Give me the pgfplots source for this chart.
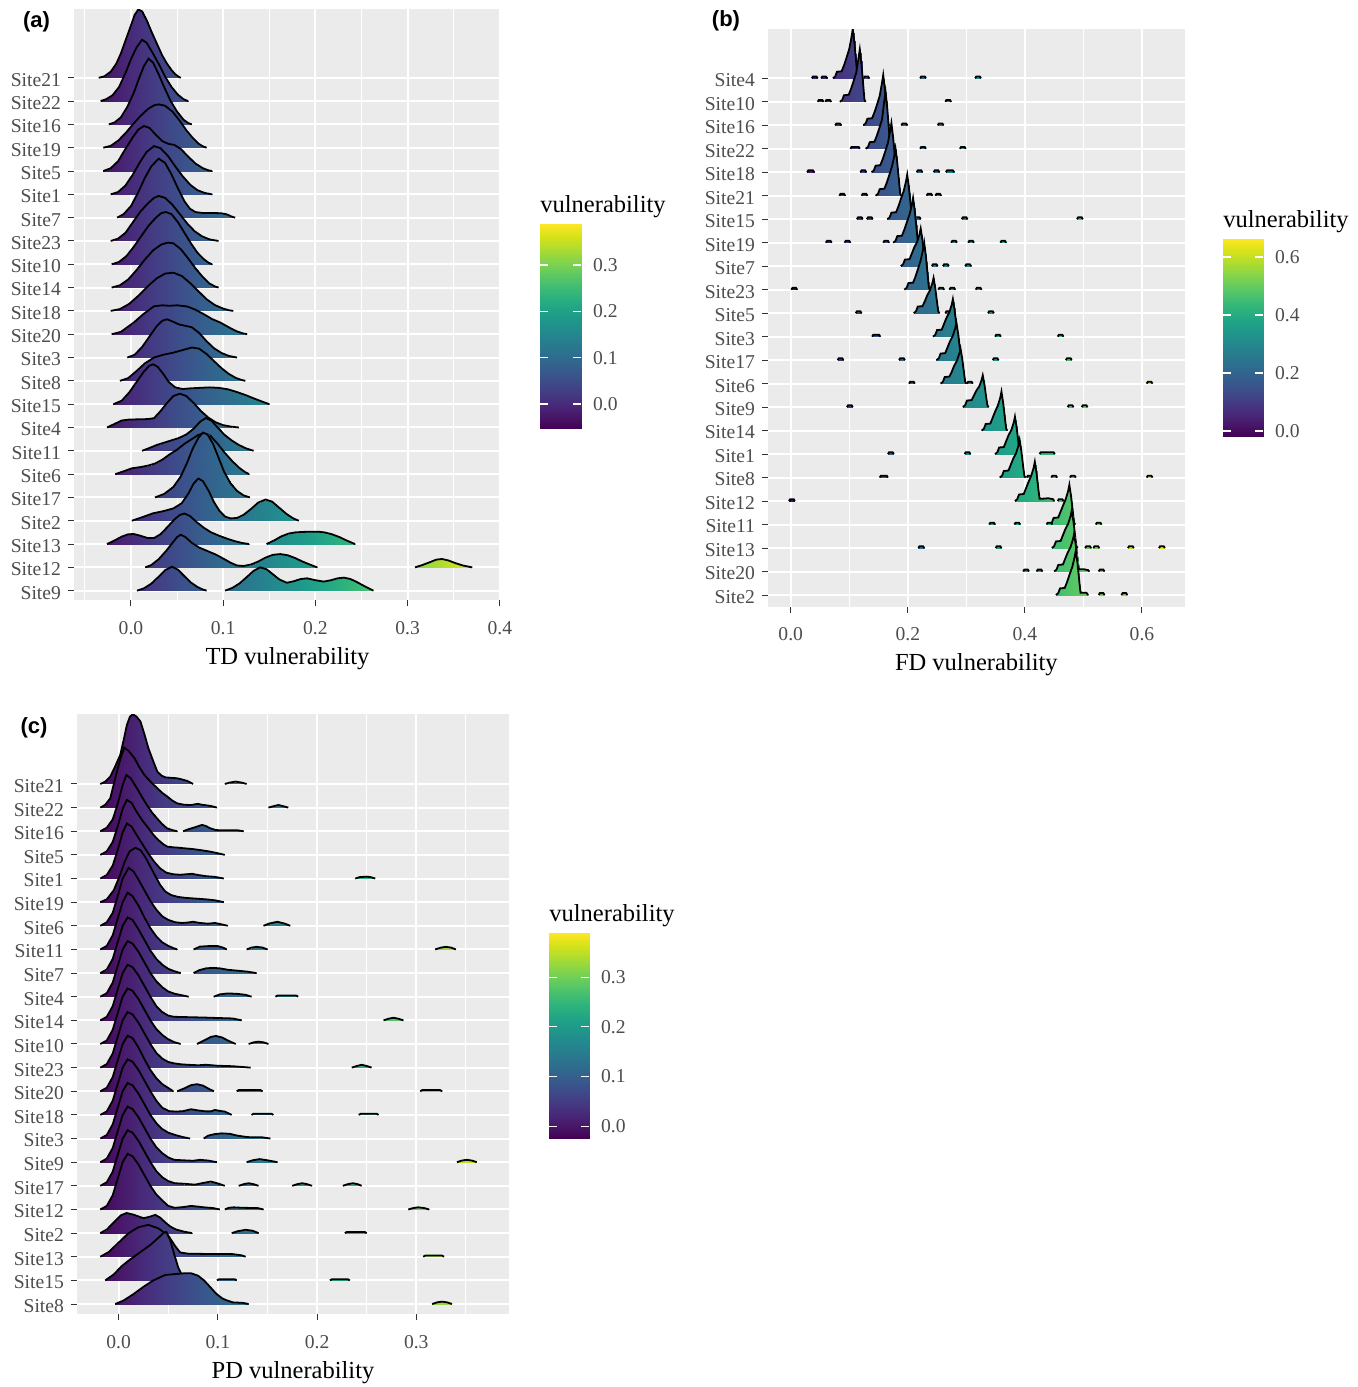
\documentclass[border=0pt]{standalone}
\usepackage{pgfplots}
\pgfplotsset{compat=1.18}
\usepackage{fontspec}
\setmainfont{Liberation Serif}
\newfontfamily\panelfont{Liberation Sans}
\definecolor{bggrey}{HTML}{EBEBEB}
\definecolor{labgrey}{HTML}{4D4D4D}
\definecolor{tickgrey}{HTML}{333333}
\newcommand\ticksize{\fontsize{9.8pt}{11pt}\selectfont}
\newcommand\titlesize{\fontsize{12.25pt}{14pt}\selectfont}

% one ridge: #1 = baseline (category position), #2 = list x/height
\newcommand\ridge[2]{%
  \gdef\rbase{}\gdef\rtop{}%
  \foreach \xx/\hh in {#2}{%
    \pgfmathsetmacro\yy{#1+\hh}%
    \xdef\rbase{\rbase(\xx,#1)}%
    \xdef\rtop{\rtop(\xx,\yy)}%
  }%
  \edef\rtmp{\noexpand\addplot[surf,shader=interp,point meta=x,mesh/rows=2,forget plot] coordinates {\rbase\rtop};%
    \noexpand\addplot[draw=black,line width=0.9pt,forget plot] coordinates {\rtop};}%
  \rtmp}

\pgfplotsset{
  ridgeaxis/.style={
    scale only axis, anchor=north west, clip=true,
    axis background/.style={fill=bggrey},
    axis line style={draw=none},
    xmajorgrids, ymajorgrids, xminorgrids,
    major grid style={draw=white, line width=1pt},
    minor grid style={draw=white, line width=0.5pt},
    tick align=outside, xtick pos=left, ytick pos=left,
    major tick length=3pt, minor tick length=0pt,
    tick style={draw=tickgrey, line width=0.5pt},
    ytick={1,...,23},
    /pgf/number format/assume math mode=true,
    x tick label style={font=\ticksize, text=labgrey, yshift=-4pt, /pgf/number format/.cd, fixed, fixed zerofill, precision=1, /tikz/.cd},
    y tick label style={font=\ticksize, text=labgrey, yshift=-1pt},
    xlabel style={font=\titlesize, at={(axis description cs:0.5,0)}, anchor=base, yshift=-32pt},
    colormap/viridis,
  },
  cbar/.style={
    scale only axis, anchor=north west, clip=true,
    xmin=0, xmax=1, colormap/viridis,
    axis line style={draw=none}, xtick=\empty,
    tick align=inside, ytick pos=both, yticklabel pos=right,
    major tick length=4pt, minor tick length=0pt,
    ytick style={draw=white, line width=0.6pt},
    axis on top,
    /pgf/number format/assume math mode=true,
    y tick label style={font=\ticksize, text=labgrey, xshift=2.5pt, /pgf/number format/.cd, fixed, fixed zerofill, precision=1, /tikz/.cd},
    title={vulnerability},
    title style={font=\titlesize, anchor=base west, at={(0,1)}, yshift=0pt, inner sep=0pt},
  }
}

\begin{document}
\begin{tikzpicture}
\useasboundingbox (0,0) rectangle (678.5pt,-693.5pt);

% ---------------- (a) TD ----------------
\begin{axis}[ridgeaxis, at={(37pt,-4.5pt)}, width=213.5pt, height=295.5pt,
  xmin=-0.0618, xmax=0.4013, ymin=0.6, ymax=25.95,
  xtick={0,0.1,0.2,0.3,0.4}, minor xtick={-0.05,0.05,0.15,0.25,0.35},
  yticklabels={Site9,Site12,Site13,Site2,Site17,Site6,Site11,Site4,Site15,Site8,Site3,Site20,Site18,Site14,Site10,Site23,Site7,Site1,Site5,Site19,Site16,Site22,Site21},
  xlabel={TD vulnerability},
  point meta min=-0.0518, point meta max=0.3885,
]
\ridge{23}{-0.035/0,-0.029/0.06,-0.022/0.26,-0.016/0.6,-0.011/1.04,-0.005/1.7,0/2.25,0.004/2.7,0.008/2.93,0.012/2.85,0.017/2.47,0.022/2.0,0.028/1.47,0.034/0.95,0.039/0.61,0.044/0.33,0.048/0.15,0.052/0.04,0.054/0}
\ridge{22}{-0.033/0,-0.027/0.08,-0.02/0.25,-0.013/0.6,-0.006/1.2,0/1.8,0.006/2.3,0.012/2.63,0.017/2.5,0.023/2.1,0.03/1.6,0.037/1.05,0.044/0.6,0.051/0.27,0.057/0.08,0.062/0}
\ridge{21}{-0.024/0,-0.018/0.08,-0.011/0.3,-0.004/0.75,0.003/1.35,0.009/2.0,0.014/2.5,0.019/2.82,0.024/2.65,0.03/2.15,0.036/1.6,0.043/1.0,0.05/0.55,0.057/0.2,0.062/0.06,0.066/0}
\ridge{20}{-0.03/0,-0.022/0.08,-0.014/0.3,-0.006/0.62,0.002/1.0,0.01/1.35,0.018/1.65,0.025/1.82,0.03/1.86,0.037/1.8,0.045/1.55,0.053/1.15,0.06/0.75,0.067/0.42,0.073/0.18,0.078/0.06,0.082/0}
\ridge{19}{-0.03/0,-0.022/0.12,-0.014/0.42,-0.006/0.95,0.002/1.45,0.008/1.78,0.014/1.93,0.02/1.85,0.027/1.55,0.034/1.28,0.041/1.16,0.047/1.12,0.054/0.95,0.062/0.62,0.07/0.32,0.078/0.12,0.084/0.03,0.088/0}
\ridge{18}{-0.022/0,-0.014/0.1,-0.006/0.38,0.002/0.85,0.01/1.4,0.017/1.82,0.025/2.07,0.032/1.98,0.04/1.65,0.048/1.2,0.056/0.78,0.064/0.42,0.072/0.18,0.08/0.06,0.088/0}
\ridge{17}{-0.015/0,-0.008/0.15,0/0.5,0.008/1.1,0.015/1.7,0.022/2.2,0.03/2.53,0.037/2.35,0.044/1.85,0.051/1.25,0.058/0.7,0.064/0.38,0.07/0.24,0.078/0.2,0.088/0.2,0.098/0.19,0.104/0.14,0.109/0.05,0.113/0}
\ridge{16}{-0.022/0,-0.014/0.1,-0.006/0.35,0.002/0.8,0.01/1.25,0.018/1.6,0.025/1.85,0.03/1.93,0.037/1.85,0.045/1.55,0.053/1.15,0.061/0.75,0.069/0.42,0.077/0.2,0.085/0.07,0.095/0}
\ridge{15}{-0.021/0,-0.013/0.1,-0.005/0.35,0.003/0.75,0.011/1.2,0.019/1.65,0.027/2.0,0.033/2.2,0.038/2.24,0.044/2.15,0.051/1.8,0.058/1.35,0.065/0.9,0.072/0.5,0.079/0.22,0.084/0.07,0.088/0}
\ridge{14}{-0.021/0,-0.012/0.1,-0.003/0.35,0.006/0.75,0.015/1.2,0.024/1.6,0.033/1.85,0.04/1.93,0.046/1.9,0.054/1.65,0.062/1.25,0.07/0.82,0.078/0.45,0.085/0.18,0.091/0.05,0.095/0}
\ridge{13}{-0.022/0,-0.012/0.08,-0.002/0.3,0.008/0.65,0.018/1.05,0.028/1.4,0.037/1.6,0.046/1.64,0.055/1.5,0.064/1.2,0.073/0.85,0.082/0.5,0.091/0.25,0.1/0.1,0.106/0.03,0.111/0}
\ridge{12}{-0.021/0,-0.011/0.1,0.003/0.5,0.013/0.85,0.025/1.2,0.034/1.24,0.042/1.22,0.05/1.24,0.061/1.19,0.07/1.05,0.079/0.86,0.088/0.65,0.097/0.5,0.106/0.3,0.115/0.12,0.122/0.03,0.126/0}
\ridge{11}{-0.004/0,0.004/0.12,0.012/0.45,0.02/0.9,0.028/1.35,0.034/1.58,0.039/1.64,0.045/1.55,0.052/1.42,0.059/1.36,0.066/1.3,0.074/1.05,0.082/0.7,0.09/0.4,0.098/0.2,0.106/0.07,0.115/0}
\ridge{10}{-0.012/0,-0.003/0.12,0.006/0.42,0.015/0.75,0.025/1.0,0.035/1.12,0.046/1.21,0.056/1.32,0.066/1.43,0.074/1.38,0.082/1.15,0.09/0.85,0.098/0.55,0.106/0.3,0.114/0.12,0.12/0.04,0.124/0}
\ridge{9}{-0.019/0,-0.01/0.15,-0.002/0.5,0.006/0.95,0.014/1.4,0.02/1.65,0.024/1.71,0.029/1.6,0.035/1.3,0.041/0.95,0.048/0.72,0.056/0.65,0.065/0.68,0.075/0.7,0.085/0.72,0.095/0.7,0.105/0.64,0.115/0.52,0.125/0.38,0.135/0.22,0.143/0.1,0.15/0}
\ridge{8}{-0.026/0,-0.018/0.15,-0.01/0.3,-0.002/0.34,0.008/0.35,0.018/0.36,0.025/0.4,0.032/0.7,0.039/1.05,0.046/1.35,0.053/1.45,0.06/1.35,0.068/1.05,0.076/0.7,0.084/0.42,0.092/0.22,0.1/0.1,0.108/0.04,0.117/0}
\ridge{7}{0.012/0,0.02/0.12,0.028/0.25,0.036/0.35,0.044/0.45,0.052/0.55,0.06/0.7,0.068/0.95,0.075/1.25,0.081/1.4,0.087/1.3,0.094/1.0,0.101/0.7,0.109/0.45,0.117/0.25,0.125/0.1,0.133/0}
\ridge{6}{-0.017/0,-0.008/0.12,0.001/0.25,0.01/0.3,0.018/0.36,0.026/0.45,0.034/0.62,0.042/0.85,0.05/1.05,0.058/1.3,0.066/1.5,0.073/1.68,0.079/1.75,0.086/1.65,0.094/1.3,0.102/0.9,0.11/0.55,0.118/0.25,0.124/0.08,0.128/0}
\ridge{5}{0.026/0,0.036/0.15,0.046/0.45,0.054/0.9,0.061/1.5,0.067/2.1,0.073/2.55,0.078/2.78,0.083/2.7,0.089/2.3,0.095/1.7,0.101/1.1,0.108/0.6,0.115/0.28,0.122/0.09,0.129/0}
\ridge{4}{0.001/0,0.012/0.15,0.024/0.32,0.036/0.42,0.046/0.53,0.055/0.75,0.062/1.15,0.068/1.6,0.073/1.81,0.078/1.7,0.084/1.3,0.09/0.8,0.096/0.42,0.102/0.18,0.108/0.1,0.115/0.12,0.122/0.25,0.13/0.5,0.138/0.78,0.146/0.91,0.153/0.82,0.161/0.55,0.169/0.28,0.176/0.1,0.182/0}
\ridge{3}{-0.026/0,-0.018/0.15,-0.01/0.32,-0.003/0.42,0.003/0.43,0.01/0.36,0.018/0.26,0.025/0.26,0.032/0.42,0.04/0.75,0.047/1.05,0.053/1.25,0.058/1.31,0.064/1.2,0.071/0.95,0.079/0.7,0.087/0.5,0.096/0.35,0.105/0.22,0.113/0.12,0.12/0.05,0.128/0}
\ridge{3}{0.147/0,0.155/0.15,0.163/0.33,0.171/0.45,0.178/0.5,0.186/0.52,0.195/0.53,0.203/0.53,0.21/0.5,0.218/0.42,0.226/0.3,0.234/0.15,0.243/0}
\ridge{2}{0.0155/0,0.022/0.1,0.03/0.35,0.038/0.7,0.045/1.05,0.05/1.3,0.054/1.4,0.059/1.3,0.066/1.05,0.074/0.85,0.083/0.7,0.092/0.55,0.1/0.38,0.108/0.2,0.115/0.08,0.122/0.06,0.13/0.12,0.138/0.25,0.146/0.42,0.154/0.54,0.162/0.57,0.17/0.52,0.178/0.4,0.186/0.25,0.194/0.12,0.202/0}
\ridge{2}{0.308/0,0.316/0.1,0.324/0.22,0.331/0.33,0.337/0.36,0.344/0.3,0.352/0.18,0.36/0.08,0.37/0}
\ridge{1}{0.0065/0,0.014/0.1,0.022/0.3,0.03/0.6,0.037/0.88,0.0445/1.03,0.051/0.9,0.058/0.62,0.065/0.35,0.072/0.16,0.078/0.05,0.082/0}
\ridge{1}{0.102/0,0.11/0.12,0.118/0.32,0.126/0.6,0.133/0.85,0.14/1.0,0.147/0.92,0.154/0.7,0.161/0.48,0.169/0.34,0.176/0.4,0.184/0.5,0.191/0.53,0.2/0.45,0.209/0.39,0.217/0.45,0.224/0.53,0.231/0.56,0.238/0.5,0.245/0.37,0.252/0.22,0.258/0.1,0.263/0}
\end{axis}

\begin{axis}[cbar, at={(270pt,-112pt)}, width=20.5pt, height=102pt,
  ymin=-0.0518, ymax=0.3885, point meta min=-0.0518, point meta max=0.3885,
  ytick={0,0.1,0.2,0.3}]
\addplot[surf, shader=interp, point meta=y, mesh/rows=9] coordinates {(0,-0.0518) (1,-0.0518) (0,0) (1,0) (0,0.05) (1,0.05) (0,0.1) (1,0.1) (0,0.15) (1,0.15) (0,0.2) (1,0.2) (0,0.25) (1,0.25) (0,0.3) (1,0.3) (0,0.3885) (1,0.3885)};
\end{axis}

% ---------------- (b) FD ----------------
\begin{axis}[ridgeaxis, at={(384pt,-14.5pt)}, width=208.35pt, height=288.75pt,
  xmin=-0.0388, xmax=0.673, ymin=0.51, ymax=25.1,
  xtick={0,0.2,0.4,0.6}, minor xtick={0.1,0.3,0.5},
  yticklabels={Site2,Site20,Site13,Site11,Site12,Site8,Site1,Site14,Site9,Site6,Site17,Site3,Site5,Site23,Site7,Site19,Site15,Site21,Site18,Site22,Site16,Site10,Site4},
  xlabel={FD vulnerability},
  point meta min=-0.0172, point meta max=0.662,
]
% Site4
\ridge{23}{0.072/0,0.076/0.08,0.079/0.28,0.087/0.3,0.091/0.55,0.095/0.85,0.1/1.25,0.104/1.78,0.106/2.09,0.109/1.46,0.112/0.63,0.114/0.08,0.116/0}
\ridge{23}{0.036/0,0.038/0.08,0.044/0.08,0.046/0}
\ridge{23}{0.052/0,0.054/0.08,0.060/0.08,0.062/0}
\ridge{23}{0.124/0,0.126/0.08,0.132/0.08,0.134/0}
\ridge{23}{0.221/0,0.223/0.08,0.229/0.08,0.231/0}
\ridge{23}{0.315/0,0.317/0.08,0.323/0.08,0.325/0}
% Site10
\ridge{22}{0.084/0,0.088/0.08,0.091/0.28,0.099/0.3,0.103/0.55,0.107/0.85,0.112/1.25,0.116/1.9,0.118/2.23,0.121/1.56,0.124/0.67,0.126/0.08,0.128/0}
\ridge{22}{0.046/0,0.048/0.08,0.054/0.08,0.056/0}
\ridge{22}{0.059/0,0.061/0.08,0.067/0.08,0.069/0}
\ridge{22}{0.264/0,0.266/0.08,0.272/0.08,0.274/0}
% Site16
\ridge{21}{0.124/0,0.128/0.08,0.131/0.28,0.139/0.3,0.143/0.55,0.147/0.85,0.152/1.25,0.156/1.82,0.158/2.14,0.161/1.5,0.164/0.64,0.166/0.08,0.168/0}
\ridge{21}{0.076/0,0.078/0.08,0.084/0.08,0.086/0}
\ridge{21}{0.189/0,0.191/0.08,0.197/0.08,0.199/0}
\ridge{21}{0.251/0,0.253/0.08,0.259/0.08,0.261/0}
% Site22
\ridge{20}{0.128/0,0.132/0.08,0.135/0.28,0.143/0.3,0.147/0.55,0.151/0.85,0.156/1.25,0.160/2.07,0.162/2.43,0.165/1.7,0.168/0.73,0.170/0.08,0.172/0}
\ridge{20}{0.102/0,0.104/0.08,0.116/0.08,0.118/0}
\ridge{20}{0.221/0,0.223/0.08,0.229/0.08,0.231/0}
\ridge{20}{0.289/0,0.291/0.08,0.297/0.08,0.299/0}
% Site18
\ridge{19}{0.138/0,0.142/0.08,0.145/0.28,0.153/0.3,0.157/0.55,0.161/0.85,0.166/1.25,0.170/1.78,0.172/2.09,0.175/1.46,0.178/0.63,0.180/0.08,0.182/0}
\ridge{19}{0.028/0,0.030/0.08,0.038/0.08,0.040/0}
\ridge{19}{0.119/0,0.121/0.08,0.127/0.08,0.129/0}
\ridge{19}{0.215/0,0.217/0.08,0.223/0.08,0.225/0}
\ridge{19}{0.244/0,0.246/0.08,0.252/0.08,0.254/0}
\ridge{19}{0.265/0,0.267/0.08,0.277/0.08,0.279/0}
% Site21
\ridge{18}{0.145/0,0.149/0.08,0.152/0.28,0.160/0.3,0.164/0.55,0.168/0.85,0.173/1.25,0.177/1.7,0.179/2.0,0.182/1.4,0.185/0.6,0.187/0.08,0.189/0}
\ridge{18}{0.083/0,0.085/0.08,0.091/0.08,0.093/0}
\ridge{18}{0.121/0,0.123/0.08,0.129/0.08,0.131/0}
\ridge{18}{0.232/0,0.234/0.08,0.240/0.08,0.242/0}
\ridge{18}{0.247/0,0.249/0.08,0.255/0.08,0.257/0}
% Site15
\ridge{17}{0.165/0,0.169/0.08,0.172/0.28,0.180/0.3,0.184/0.55,0.188/0.85,0.193/1.2,0.197/1.62,0.199/1.9,0.202/1.33,0.205/0.57,0.207/0.08,0.209/0}
\ridge{17}{0.113/0,0.115/0.08,0.121/0.08,0.123/0}
\ridge{17}{0.130/0,0.132/0.08,0.138/0.08,0.140/0}
\ridge{17}{0.212/0,0.214/0.08,0.220/0.08,0.222/0}
\ridge{17}{0.292/0,0.294/0.08,0.300/0.08,0.302/0}
\ridge{17}{0.489/0,0.491/0.08,0.497/0.08,0.499/0}
% Site19
\ridge{16}{0.175/0,0.179/0.08,0.182/0.28,0.190/0.3,0.194/0.55,0.198/0.85,0.203/1.2,0.207/1.62,0.209/1.9,0.212/1.33,0.215/0.57,0.217/0.08,0.219/0}
\ridge{16}{0.060/0,0.062/0.08,0.068/0.08,0.070/0}
\ridge{16}{0.092/0,0.094/0.08,0.100/0.08,0.102/0}
\ridge{16}{0.158/0,0.160/0.08,0.166/0.08,0.168/0}
\ridge{16}{0.274/0,0.276/0.08,0.282/0.08,0.284/0}
\ridge{16}{0.303/0,0.305/0.08,0.311/0.08,0.313/0}
\ridge{16}{0.358/0,0.360/0.08,0.366/0.08,0.368/0}
% Site7
\ridge{15}{0.188/0,0.192/0.08,0.195/0.28,0.203/0.3,0.207/0.55,0.211/0.8,0.216/1.04,0.220/1.36,0.222/1.6,0.225/1.12,0.228/0.48,0.230/0.08,0.232/0}
\ridge{15}{0.241/0,0.243/0.08,0.249/0.08,0.251/0}
\ridge{15}{0.260/0,0.262/0.08,0.268/0.08,0.270/0}
\ridge{15}{0.298/0,0.300/0.08,0.306/0.08,0.308/0}
% Site23
\ridge{14}{0.194/0,0.198/0.08,0.201/0.28,0.209/0.3,0.213/0.55,0.217/0.85,0.222/1.25,0.226/1.7,0.228/2.0,0.231/1.4,0.234/0.6,0.236/0.08,0.238/0}
\ridge{14}{0.001/0,0.003/0.08,0.009/0.08,0.011/0}
\ridge{14}{0.252/0,0.254/0.08,0.260/0.08,0.262/0}
\ridge{14}{0.271/0,0.273/0.08,0.279/0.08,0.281/0}
\ridge{14}{0.316/0,0.318/0.08,0.324/0.08,0.326/0}
% Site5
\ridge{13}{0.210/0,0.214/0.08,0.217/0.28,0.225/0.3,0.229/0.5,0.233/0.75,0.238/0.98,0.242/1.28,0.244/1.5,0.247/1.05,0.250/0.45,0.252/0.08,0.254/0}
\ridge{13}{0.111/0,0.113/0.08,0.119/0.08,0.121/0}
\ridge{13}{0.264/0,0.266/0.08,0.272/0.08,0.274/0}
\ridge{13}{0.337/0,0.339/0.08,0.345/0.08,0.347/0}
% Site3
\ridge{12}{0.243/0,0.247/0.08,0.250/0.28,0.258/0.3,0.262/0.55,0.266/0.8,0.271/1.04,0.275/1.36,0.277/1.6,0.280/1.12,0.283/0.48,0.285/0.08,0.287/0}
\ridge{12}{0.139/0,0.141/0.08,0.151/0.08,0.153/0}
\ridge{12}{0.349/0,0.351/0.08,0.357/0.08,0.359/0}
\ridge{12}{0.456/0,0.458/0.08,0.464/0.08,0.466/0}
% Site17
\ridge{11}{0.249/0,0.253/0.08,0.256/0.28,0.264/0.3,0.268/0.55,0.272/0.8,0.277/1.04,0.281/1.36,0.283/1.6,0.286/1.12,0.289/0.48,0.291/0.08,0.293/0}
\ridge{11}{0.080/0,0.082/0.08,0.088/0.08,0.090/0}
\ridge{11}{0.185/0,0.187/0.08,0.193/0.08,0.195/0}
\ridge{11}{0.345/0,0.347/0.08,0.353/0.08,0.355/0}
\ridge{11}{0.470/0,0.472/0.08,0.478/0.08,0.480/0}
% Site6
\ridge{10}{0.256/0,0.260/0.08,0.263/0.28,0.271/0.3,0.275/0.5,0.279/0.75,0.284/0.98,0.288/1.28,0.290/1.5,0.293/1.05,0.296/0.45,0.298/0.08,0.300/0}
\ridge{10}{0.202/0,0.204/0.08,0.210/0.08,0.212/0}
\ridge{10}{0.301/0,0.303/0.08,0.309/0.08,0.311/0}
\ridge{10}{0.608/0,0.610/0.08,0.616/0.08,0.618/0}
% Site9
\ridge{9}{0.294/0,0.298/0.08,0.301/0.28,0.309/0.3,0.313/0.5,0.317/0.7,0.322/0.88,0.326/1.15,0.328/1.35,0.331/0.95,0.334/0.4,0.336/0.08,0.338/0}
\ridge{9}{0.096/0,0.098/0.08,0.104/0.08,0.106/0}
\ridge{9}{0.473/0,0.475/0.08,0.481/0.08,0.483/0}
\ridge{9}{0.497/0,0.499/0.08,0.505/0.08,0.507/0}
% Site14
\ridge{8}{0.326/0,0.330/0.08,0.333/0.28,0.341/0.3,0.345/0.55,0.349/0.8,0.354/1.08,0.358/1.41,0.360/1.66,0.363/1.16,0.366/0.5,0.368/0.08,0.370/0}
% Site1
\ridge{7}{0.349/0,0.353/0.08,0.356/0.28,0.364/0.3,0.368/0.55,0.372/0.8,0.377/1.03,0.381/1.35,0.383/1.59,0.386/1.11,0.389/0.48,0.391/0.08,0.393/0}
\ridge{7}{0.166/0,0.168/0.08,0.174/0.08,0.176/0}
\ridge{7}{0.297/0,0.299/0.08,0.305/0.08,0.307/0}
\ridge{7}{0.425/0,0.427/0.08,0.449/0.08,0.451/0}
% Site8
\ridge{6}{0.357/0,0.361/0.08,0.364/0.28,0.372/0.3,0.376/0.55,0.380/0.8,0.385/1.04,0.389/1.36,0.391/1.6,0.394/1.12,0.397/0.48,0.399/0.08,0.401/0}
\ridge{6}{0.152/0,0.154/0.08,0.164/0.08,0.166/0}
\ridge{6}{0.403/0,0.405/0.08,0.411/0.08,0.413/0}
\ridge{6}{0.445/0,0.447/0.08,0.453/0.08,0.455/0}
\ridge{6}{0.477/0,0.479/0.08,0.485/0.08,0.487/0}
\ridge{6}{0.608/0,0.610/0.08,0.616/0.08,0.618/0}
% Site12
\ridge{5}{0.383/0,0.387/0.08,0.390/0.28,0.398/0.3,0.402/0.55,0.406/0.8,0.411/1.09,0.415/1.42,0.417/1.67,0.420/1.17,0.423/0.5,0.425/0.1,0.43/0.1,0.44/0.12,0.448/0.08,0.45/0}
\ridge{5}{-0.003/0,-0.001/0.08,0.005/0.08,0.007/0}
\ridge{5}{0.456/0,0.458/0.08,0.464/0.08,0.466/0}
% Site11
\ridge{4}{0.442/0,0.446/0.08,0.449/0.28,0.457/0.3,0.461/0.55,0.465/0.8,0.470/1.1,0.474/1.44,0.476/1.69,0.479/1.18,0.482/0.51,0.484/0.08,0.486/0}
\ridge{4}{0.339/0,0.341/0.08,0.347/0.08,0.349/0}
\ridge{4}{0.382/0,0.384/0.08,0.390/0.08,0.392/0}
\ridge{4}{0.437/0,0.439/0.08,0.445/0.08,0.447/0}
\ridge{4}{0.521/0,0.523/0.08,0.529/0.08,0.531/0}
% Site13
\ridge{3}{0.446/0,0.450/0.08,0.453/0.28,0.461/0.3,0.465/0.55,0.469/0.8,0.474/1.04,0.478/1.36,0.480/1.6,0.483/1.12,0.486/0.48,0.488/0.08,0.490/0}
\ridge{3}{0.218/0,0.220/0.08,0.226/0.08,0.228/0}
\ridge{3}{0.350/0,0.352/0.08,0.358/0.08,0.360/0}
\ridge{3}{0.503/0,0.505/0.08,0.511/0.08,0.513/0}
\ridge{3}{0.517/0,0.519/0.08,0.525/0.08,0.527/0}
\ridge{3}{0.576/0,0.578/0.08,0.584/0.08,0.586/0}
\ridge{3}{0.629/0,0.631/0.08,0.637/0.08,0.639/0}
% Site20
\ridge{2}{0.450/0,0.454/0.08,0.457/0.28,0.465/0.3,0.469/0.55,0.473/0.8,0.478/1.04,0.482/1.36,0.484/1.6,0.487/1.12,0.490/0.48,0.492/0.1,0.5/0.1,0.508/0.06,0.51/0}
\ridge{2}{0.397/0,0.399/0.08,0.405/0.08,0.407/0}
\ridge{2}{0.420/0,0.422/0.08,0.428/0.08,0.430/0}
\ridge{2}{0.526/0,0.528/0.08,0.534/0.08,0.536/0}
% Site2
\ridge{1}{0.453/0,0.457/0.08,0.460/0.28,0.468/0.3,0.472/0.55,0.476/0.85,0.481/1.2,0.485/1.62,0.487/1.9,0.490/1.33,0.493/0.57,0.495/0.1,0.505/0.1,0.508/0}
\ridge{1}{0.526/0,0.528/0.08,0.534/0.08,0.536/0}
\ridge{1}{0.565/0,0.567/0.08,0.573/0.08,0.575/0}
\end{axis}

\begin{axis}[cbar, at={(611.5pt,-119.5pt)}, width=20pt, height=98.5pt,
  ymin=-0.0172, ymax=0.662, point meta min=-0.0172, point meta max=0.662,
  ytick={0,0.2,0.4,0.6}]
\addplot[surf, shader=interp, point meta=y, mesh/rows=9] coordinates {(0,-0.0172) (1,-0.0172) (0,0.08) (1,0.08) (0,0.16) (1,0.16) (0,0.24) (1,0.24) (0,0.32) (1,0.32) (0,0.40) (1,0.40) (0,0.48) (1,0.48) (0,0.56) (1,0.56) (0,0.662) (1,0.662)};
\end{axis}

% ---------------- (c) PD ----------------
\begin{axis}[ridgeaxis, at={(38.5pt,-357pt)}, width=216pt, height=300pt,
  xmin=-0.042, xmax=0.3935, ymin=0.577, ymax=25.96,
  xtick={0,0.1,0.2,0.3}, minor xtick={0.05,0.15,0.25,0.35},
  yticklabels={Site8,Site15,Site13,Site2,Site12,Site17,Site9,Site3,Site18,Site20,Site23,Site10,Site14,Site4,Site7,Site11,Site6,Site19,Site1,Site5,Site16,Site22,Site21},
  xlabel={PD vulnerability},
  point meta min=-0.024, point meta max=0.389,
]
% Site21
\ridge{23}{-0.0185/0,-0.0135/0.1,-0.0085/0.31,-0.004/0.7,0.0016/1.23,0.005/1.85,0.0083/2.5,0.0114/2.85,0.0144/2.95,0.018/2.85,0.022/2.64,0.026/2.1,0.030/1.51,0.035/0.95,0.039/0.52,0.043/0.36,0.047/0.28,0.053/0.26,0.059/0.24,0.064/0.19,0.069/0.13,0.073/0.05,0.075/0}
\ridge{23}{0.107/0,0.112/0.06,0.118/0.1,0.124/0.06,0.129/0}
% Site22
\ridge{22}{-0.0185/0,-0.0135/0.12,-0.0085/0.39,-0.0018/1.52,0.002/2.1,0.0057/2.54,0.01/2.4,0.016/2.09,0.021/1.7,0.026/1.38,0.032/1.1,0.039/0.82,0.044/0.62,0.049/0.47,0.054/0.3,0.059/0.18,0.066/0.12,0.073/0.11,0.077/0.14,0.080/0.16,0.084/0.12,0.088/0.1,0.094/0.06,0.099/0}
\ridge{22}{0.151/0,0.156/0.06,0.161/0.11,0.166/0.06,0.171/0}
% Site16
\ridge{21}{-0.0185/0,-0.012/0.15,-0.006/0.5,-0.001/1.15,0.004/1.95,0.0077/2.38,0.012/2.25,0.0184/1.82,0.0235/1.45,0.0285/1.11,0.0335/0.8,0.0385/0.55,0.0435/0.32,0.0486/0.13,0.054/0.05,0.059/0}
\ridge{21}{0.065/0,0.07/0.08,0.077/0.17,0.084/0.27,0.088/0.22,0.092/0.13,0.098/0.05,0.105/0.04,0.12/0.04,0.126/0}
% Site5
\ridge{20}{-0.0185/0,-0.012/0.15,-0.006/0.55,-0.001/1.2,0.004/1.95,0.0083/2.33,0.013/2.2,0.018/1.83,0.024/1.45,0.030/1.13,0.035/0.85,0.040/0.63,0.045/0.45,0.049/0.35,0.055/0.32,0.059/0.31,0.066/0.28,0.074/0.25,0.083/0.2,0.092/0.14,0.1/0.07,0.107/0}
% Site1
\ridge{19}{-0.0185/0,-0.012/0.15,-0.006/0.55,-0.001/1.2,0.004/1.95,0.0083/2.33,0.013/2.2,0.018/1.85,0.024/1.45,0.030/1.05,0.036/0.7,0.042/0.42,0.048/0.25,0.055/0.18,0.062/0.16,0.068/0.18,0.074/0.2,0.08/0.15,0.088/0.1,0.097/0.07,0.106/0}
\ridge{19}{0.2385/0,0.243/0.06,0.25/0.08,0.254/0.06,0.2587/0}
% Site19
\ridge{18}{-0.0185/0,-0.012/0.12,-0.005/0.5,0.001/1.1,0.006/1.7,0.011/2.15,0.0168/2.3,0.022/2.2,0.027/1.9,0.032/1.5,0.037/1.1,0.042/0.72,0.047/0.45,0.053/0.3,0.06/0.22,0.068/0.18,0.078/0.15,0.088/0.12,0.097/0.08,0.106/0}
% Site6
\ridge{17}{-0.0185/0,-0.012/0.15,-0.006/0.55,-0.001/1.25,0.004/2.0,0.010/2.45,0.015/2.3,0.02/1.95,0.026/1.5,0.032/1.05,0.038/0.68,0.044/0.4,0.05/0.25,0.057/0.15,0.064/0.12,0.07/0.14,0.075/0.17,0.082/0.12,0.09/0.09,0.097/0.12,0.104/0.06,0.11/0}
\ridge{17}{0.146/0,0.152/0.1,0.16/0.17,0.167/0.1,0.173/0}
% Site11
\ridge{16}{-0.0185/0,-0.012/0.15,-0.006/0.6,-0.001/1.3,0.004/2.0,0.009/2.4,0.014/2.25,0.02/1.85,0.026/1.35,0.032/0.9,0.038/0.55,0.044/0.3,0.05/0.15,0.055/0.06,0.059/0}
\ridge{16}{0.0755/0,0.082/0.12,0.09/0.14,0.1/0.14,0.105/0.08,0.109/0}
\ridge{16}{0.129/0,0.134/0.08,0.139/0.11,0.145/0.08,0.15/0}
\ridge{16}{0.319/0,0.325/0.08,0.33/0.11,0.335/0.08,0.34/0}
% Site7
\ridge{15}{-0.0185/0,-0.012/0.15,-0.006/0.6,-0.001/1.3,0.004/2.0,0.009/2.35,0.014/2.25,0.02/1.85,0.026/1.4,0.032/0.95,0.038/0.6,0.044/0.35,0.05/0.18,0.056/0.08,0.0625/0}
\ridge{15}{0.0755/0,0.081/0.12,0.088/0.2,0.095/0.22,0.102/0.2,0.11/0.14,0.12/0.1,0.13/0.06,0.139/0}
% Site4
\ridge{14}{-0.0185/0,-0.012/0.15,-0.006/0.6,-0.001/1.3,0.004/2.0,0.009/2.35,0.014/2.25,0.02/1.9,0.026/1.45,0.032/1.0,0.038/0.65,0.044/0.4,0.05/0.22,0.057/0.12,0.064/0.06,0.0706/0}
\ridge{14}{0.0958/0,0.102/0.1,0.11/0.14,0.12/0.12,0.128/0.08,0.134/0}
\ridge{14}{0.158/0,0.16/0.05,0.179/0.05,0.181/0}
% Site14
\ridge{13}{-0.0185/0,-0.012/0.15,-0.006/0.6,-0.001/1.3,0.004/2.0,0.009/2.35,0.014/2.25,0.02/1.9,0.026/1.45,0.032/1.0,0.038/0.6,0.044/0.35,0.05/0.2,0.056/0.15,0.065/0.14,0.075/0.13,0.085/0.12,0.1/0.1,0.115/0.08,0.124/0}
\ridge{13}{0.267/0,0.272/0.07,0.277/0.11,0.282/0.07,0.287/0}
% Site10
\ridge{12}{-0.0185/0,-0.012/0.15,-0.006/0.6,-0.001/1.3,0.004/2.0,0.009/2.35,0.014/2.25,0.02/1.9,0.026/1.45,0.032/1.0,0.038/0.63,0.044/0.38,0.05/0.2,0.056/0.08,0.0625/0}
\ridge{12}{0.079/0,0.086/0.15,0.093/0.3,0.098/0.34,0.104/0.28,0.111/0.13,0.118/0}
\ridge{12}{0.131/0,0.136/0.07,0.141/0.1,0.146/0.07,0.151/0}
% Site23
\ridge{11}{-0.0185/0,-0.012/0.15,-0.006/0.6,-0.001/1.3,0.004/2.0,0.009/2.35,0.014/2.25,0.02/1.9,0.026/1.45,0.032/1.0,0.038/0.62,0.044/0.38,0.05/0.24,0.056/0.18,0.063/0.14,0.07/0.12,0.08/0.1,0.088/0.12,0.1/0.08,0.115/0.06,0.133/0}
\ridge{11}{0.235/0,0.24/0.07,0.245/0.12,0.25/0.07,0.255/0}
% Site20
\ridge{10}{-0.0185/0,-0.012/0.15,-0.006/0.6,-0.001/1.3,0.004/2.0,0.009/2.35,0.014/2.25,0.02/1.85,0.026/1.35,0.032/0.9,0.038/0.55,0.044/0.3,0.05/0.14,0.055/0}
\ridge{10}{0.059/0,0.066/0.12,0.073/0.26,0.079/0.3,0.085/0.24,0.091/0.1,0.096/0}
\ridge{10}{0.119/0,0.121/0.05,0.143/0.05,0.145/0}
\ridge{10}{0.304/0,0.306/0.05,0.324/0.05,0.326/0}
% Site18
\ridge{9}{-0.0185/0,-0.012/0.15,-0.006/0.6,-0.001/1.3,0.004/2.0,0.009/2.35,0.014/2.25,0.02/1.9,0.026/1.45,0.032/1.0,0.038/0.6,0.044/0.3,0.051/0.16,0.058/0.14,0.065/0.16,0.073/0.24,0.08/0.19,0.088/0.15,0.093/0.15,0.097/0.21,0.102/0.17,0.107/0.14,0.111/0.06,0.114/0}
\ridge{9}{0.134/0,0.136/0.05,0.154/0.05,0.156/0}
\ridge{9}{0.242/0,0.244/0.05,0.26/0.05,0.262/0}
% Site3
\ridge{8}{-0.0185/0,-0.012/0.15,-0.006/0.6,-0.001/1.3,0.004/2.0,0.009/2.35,0.014/2.25,0.02/1.9,0.026/1.45,0.032/1.0,0.038/0.65,0.044/0.4,0.05/0.25,0.057/0.15,0.065/0.06,0.072/0}
\ridge{8}{0.0857/0,0.09/0.12,0.097/0.19,0.104/0.22,0.112/0.2,0.12/0.12,0.13/0.06,0.145/0.05,0.153/0}
% Site9
\ridge{7}{-0.0185/0,-0.012/0.15,-0.006/0.6,-0.001/1.3,0.004/2.0,0.009/2.35,0.014/2.25,0.02/1.9,0.026/1.45,0.032/1.0,0.038/0.63,0.044/0.38,0.05/0.2,0.056/0.1,0.065/0.08,0.075/0.06,0.082/0.1,0.09/0.07,0.099/0}
\ridge{7}{0.129/0,0.135/0.08,0.142/0.13,0.15/0.08,0.16/0}
\ridge{7}{0.341/0,0.346/0.07,0.351/0.1,0.356/0.07,0.361/0}
% Site17
\ridge{6}{-0.0185/0,-0.012/0.15,-0.006/0.6,-0.001/1.3,0.004/2.0,0.009/2.35,0.014/2.25,0.02/1.9,0.026/1.45,0.032/1.0,0.038/0.62,0.044/0.36,0.05/0.2,0.0565/0.11,0.065/0.09,0.077/0.05,0.085/0.12,0.093/0.18,0.1/0.1,0.107/0}
\ridge{6}{0.121/0,0.126/0.07,0.131/0.11,0.136/0.07,0.141/0}
\ridge{6}{0.175/0,0.18/0.07,0.185/0.11,0.19/0.07,0.195/0}
\ridge{6}{0.226/0,0.231/0.07,0.236/0.11,0.241/0.07,0.245/0}
% Site12
\ridge{5}{-0.0185/0,-0.012/0.15,-0.006/0.6,-0.001/1.3,0.004/2.0,0.009/2.35,0.014/2.25,0.02/1.9,0.026/1.45,0.032/1.0,0.038/0.63,0.044/0.38,0.05/0.15,0.0565/0.07,0.065/0.1,0.073/0.15,0.08/0.12,0.086/0.09,0.095/0.06,0.102/0}
\ridge{5}{0.107/0,0.111/0.07,0.116/0.09,0.125/0.07,0.14/0.06,0.146/0}
\ridge{5}{0.292/0,0.297/0.06,0.302/0.09,0.308/0.06,0.313/0}
% Site2
\ridge{4}{-0.0185/0,-0.012/0.15,-0.005/0.45,0.002/0.75,0.008/0.85,0.015/0.78,0.025/0.63,0.032/0.7,0.037/0.77,0.042/0.65,0.047/0.45,0.052/0.28,0.058/0.15,0.066/0.06,0.074/0}
\ridge{4}{0.114/0,0.12/0.08,0.128/0.14,0.135/0.1,0.141/0}
\ridge{4}{0.228/0,0.23/0.05,0.248/0.05,0.25/0}
% Site13
\ridge{3}{-0.0185/0,-0.01/0.2,0.0/0.6,0.01/1.0,0.02/1.25,0.03/1.35,0.04/1.2,0.05/0.9,0.057/0.45,0.062/0.18,0.07/0.13,0.085/0.12,0.1/0.12,0.115/0.11,0.124/0.06,0.128/0}
\ridge{3}{0.307/0,0.309/0.05,0.326/0.05,0.328/0}
% Site15
\ridge{2}{-0.0135/0,-0.005/0.25,0.003/0.6,0.012/0.9,0.022/1.2,0.032/1.5,0.04/1.8,0.045/2.0,0.048/2.05,0.052/1.7,0.056/1.1,0.06/0.55,0.064/0.2,0.068/0.06,0.072/0}
\ridge{2}{0.099/0,0.101/0.05,0.117/0.05,0.119/0}
\ridge{2}{0.213/0,0.215/0.05,0.231/0.05,0.233/0}
% Site8
\ridge{1}{-0.0034/0,0.005/0.15,0.015/0.42,0.025/0.73,0.035/1.0,0.047/1.23,0.058/1.27,0.066/1.3,0.073/1.3,0.08/1.2,0.086/1.0,0.092/0.73,0.098/0.45,0.104/0.25,0.108/0.17,0.115/0.07,0.125/0.05,0.131/0}
\ridge{1}{0.316/0,0.321/0.07,0.326/0.1,0.331/0.07,0.336/0}
\end{axis}

\begin{axis}[cbar, at={(274.5pt,-466.5pt)}, width=20pt, height=102.5pt,
  ymin=-0.024, ymax=0.389, point meta min=-0.024, point meta max=0.389,
  ytick={0,0.1,0.2,0.3}]
\addplot[surf, shader=interp, point meta=y, mesh/rows=9] coordinates {(0,-0.024) (1,-0.024) (0,0.03) (1,0.03) (0,0.08) (1,0.08) (0,0.13) (1,0.13) (0,0.18) (1,0.18) (0,0.23) (1,0.23) (0,0.28) (1,0.28) (0,0.33) (1,0.33) (0,0.389) (1,0.389)};
\end{axis}

\node[font=\panelfont\bfseries\fontsize{11pt}{13pt}\selectfont] at (18.25pt,-11pt) {(a)};
\node[font=\panelfont\bfseries\fontsize{11pt}{13pt}\selectfont] at (363pt,-10.5pt) {(b)};
\node[font=\panelfont\bfseries\fontsize{11pt}{13pt}\selectfont] at (17pt,-364pt) {(c)};
\end{tikzpicture}
\end{document}
